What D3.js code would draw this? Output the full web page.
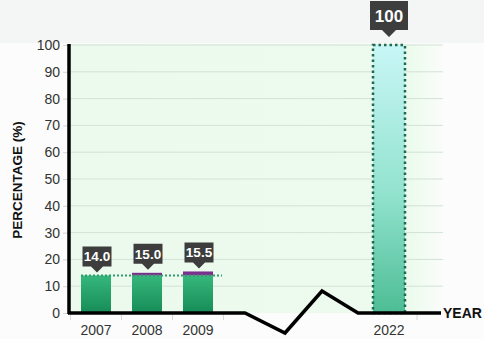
<!DOCTYPE html>
<html>
<head>
<meta charset="utf-8">
<script src="https://cdn.jsdelivr.net/npm/d3@7/dist/d3.min.js"></script>
<style>
  html, body { margin: 0; padding: 0; background: #fbfcfb; }
  svg { display: block; font-family: "Liberation Sans", Arial, sans-serif; }
</style>
</head>
<body>
<svg id="chart" width="484" height="339"></svg>
<script>
// Share of the target reached by year
const years = [2007, 2008, 2009, 2022];
const baseValues = [14.0, 14.0, 14.0, 0];     // green part (2007 level)
const totalValues = [14.0, 15.0, 15.5, 100];  // labelled totals
const targetYear = 2022;
const yTicks = [0, 10, 20, 30, 40, 50, 60, 70, 80, 90, 100];
const yTitle = "PERCENTAGE (%)";
const xTitle = "YEAR";

(function () {
const svg = d3.select("#chart");
const W = 484, H = 339;
const pLeft = 70, pRight = 443, pTop = 45, pBottom = 313;

// broken time axis: 2007–2009 evenly spaced, then a jump to 2022
const x = d3.scaleLinear().domain([2007, 2009, 2022]).range([96, 198, 389]);
const y = d3.scaleLinear().domain([0, 100]).range([pBottom, pTop]);
const barW = 30;

const defs = svg.append("defs");
const plotBg = defs.append("linearGradient").attr("id", "plotBg");
plotBg.append("stop").attr("offset", "0%").attr("stop-color", "#ecfaed");
plotBg.append("stop").attr("offset", "92%").attr("stop-color", "#edfbee");
plotBg.append("stop").attr("offset", "100%").attr("stop-color", "#fbfcfb");

const greenGrad = defs.append("linearGradient").attr("id", "greenBar")
  .attr("x1", 0).attr("y1", 0).attr("x2", 0).attr("y2", 1);
greenGrad.append("stop").attr("offset", "0%").attr("stop-color", "#36b77b");
greenGrad.append("stop").attr("offset", "100%").attr("stop-color", "#168c57");

const targetGrad = defs.append("linearGradient").attr("id", "targetBar")
  .attr("x1", 0).attr("y1", 0).attr("x2", 0).attr("y2", 1);
targetGrad.append("stop").attr("offset", "0%").attr("stop-color", "#c8f6f6");
targetGrad.append("stop").attr("offset", "55%").attr("stop-color", "#93e3cf");
targetGrad.append("stop").attr("offset", "100%").attr("stop-color", "#4dbd95");

// page bands
svg.append("rect").attr("x", 0).attr("y", 0).attr("width", W).attr("height", H).attr("fill", "#fbfcfb");
svg.append("rect").attr("x", 0).attr("y", 0).attr("width", W).attr("height", 43).attr("fill", "#f3f6f5");

// plot background
svg.append("rect").attr("x", pLeft).attr("y", pTop - 1)
  .attr("width", pRight - pLeft).attr("height", pBottom - pTop + 1)
  .attr("fill", "url(#plotBg)");

// gridlines
svg.append("g").selectAll("line").data(yTicks.filter(d => d > 0)).join("line")
  .attr("x1", pLeft).attr("x2", pRight)
  .attr("y1", d => y(d)).attr("y2", d => y(d))
  .attr("stroke", "#d3e2d5").attr("stroke-width", 1);

// y axis
const yAxis = svg.append("g").attr("transform", `translate(${pLeft - 1},0)`)
  .call(d3.axisLeft(y).tickValues(yTicks).tickSize(6).tickPadding(3));
yAxis.select(".domain").remove();
yAxis.selectAll(".tick line").attr("stroke", "#d0d8d2");
yAxis.selectAll(".tick text").attr("fill", "#333").style("font-size", "14px")
  .style("font-family", "'Liberation Sans', Arial, sans-serif");
svg.append("line").attr("x1", pLeft - 1).attr("x2", pLeft - 1)
  .attr("y1", pTop - 1).attr("y2", pBottom + 1)
  .attr("stroke", "#000").attr("stroke-width", 3.5);

// y title
svg.append("text")
  .attr("transform", `translate(22,${(pTop + pBottom) / 2 + 1}) rotate(-90)`)
  .attr("text-anchor", "middle")
  .attr("fill", "#111").style("font-size", "13.5px").style("font-weight", "bold")
  .text(yTitle);

// faint x tick marks between slots
const tickXs = [2007, 2008, 2009].map(yr => x(yr) - 25.5).concat([x(2009) + 25.5, x(targetYear) + 28]);
svg.append("g").selectAll("line").data(tickXs).join("line")
  .attr("x1", d => d).attr("x2", d => d).attr("y1", pBottom).attr("y2", pBottom + 7)
  .attr("stroke", "#d5dcd7");

// historical bars: green base + purple increase
const hist = years.map((yr, i) => ({ yr, base: baseValues[i], total: totalValues[i] }))
  .filter(d => d.yr !== targetYear);

svg.append("g").selectAll("rect").data(hist).join("rect")
  .attr("x", d => x(d.yr) - barW / 2).attr("width", barW)
  .attr("y", d => y(d.base)).attr("height", d => y(0) - y(d.base))
  .attr("fill", "url(#greenBar)");

svg.append("g").selectAll("rect").data(hist.filter(d => d.total > d.base)).join("rect")
  .attr("x", d => x(d.yr) - barW / 2).attr("width", barW)
  .attr("y", d => y(d.total)).attr("height", d => y(d.base) - y(d.total))
  .attr("fill", "#7a2f8f");

// dotted reference at the 2007 level
svg.append("line")
  .attr("x1", x(2007) - barW / 2).attr("x2", x(2009) + barW / 2 + 9)
  .attr("y1", y(baseValues[0])).attr("y2", y(baseValues[0]))
  .attr("stroke", "#2e9c6b").attr("stroke-width", 2).attr("stroke-dasharray", "2,2");

// target bar
const tIdx = years.indexOf(targetYear);
svg.append("rect")
  .attr("x", x(targetYear) - 16).attr("width", 32)
  .attr("y", y(totalValues[tIdx])).attr("height", y(0) - y(totalValues[tIdx]))
  .attr("fill", "url(#targetBar)")
  .attr("stroke", "#1c6a51").attr("stroke-width", 2.5).attr("stroke-dasharray", "2.5,3");

// x axis with break between 2009 and 2022
const axisPts = [[pLeft - 2, pBottom], [245, pBottom], [285, 333], [322, 291], [358, pBottom], [441, pBottom]];
svg.append("path").attr("d", d3.line()(axisPts))
  .attr("fill", "none").attr("stroke", "#000").attr("stroke-width", 3.5)
  .attr("stroke-linejoin", "miter");

svg.append("g").selectAll("text").data(years).join("text")
  .attr("x", d => x(d)).attr("y", 335)
  .attr("text-anchor", "middle").attr("fill", "#333").style("font-size", "14px")
  .text(d => d);

svg.append("text").attr("x", 443).attr("y", 318)
  .attr("fill", "#111").style("font-size", "14px").style("font-weight", "bold")
  .text(xTitle);

// value callouts
function callout(cx, tipY, w, h, ptr, fs, label) {
  const bTop = tipY - ptr - h, bBot = tipY - ptr;
  const p = `M${cx - w / 2},${bTop} H${cx + w / 2} V${bBot} H${cx + ptr} L${cx},${tipY} L${cx - ptr},${bBot} H${cx - w / 2} Z`;
  svg.append("path").attr("d", p).attr("fill", "#3c3d3c");
  svg.append("text").attr("x", cx).attr("y", bTop + h / 2 + fs * 0.36)
    .attr("text-anchor", "middle").attr("fill", "#fff")
    .style("font-size", fs + "px").style("font-weight", "bold").text(label);
}
hist.forEach(d => {
  callout(x(d.yr) + 1, y(d.total) - 3, 29, 20, 6, 13.5, d.total.toFixed(1));
});
callout(x(targetYear), y(totalValues[tIdx]) - 8, 38, 29, 7, 17, String(totalValues[tIdx]));
})();
</script>
</body>
</html>
